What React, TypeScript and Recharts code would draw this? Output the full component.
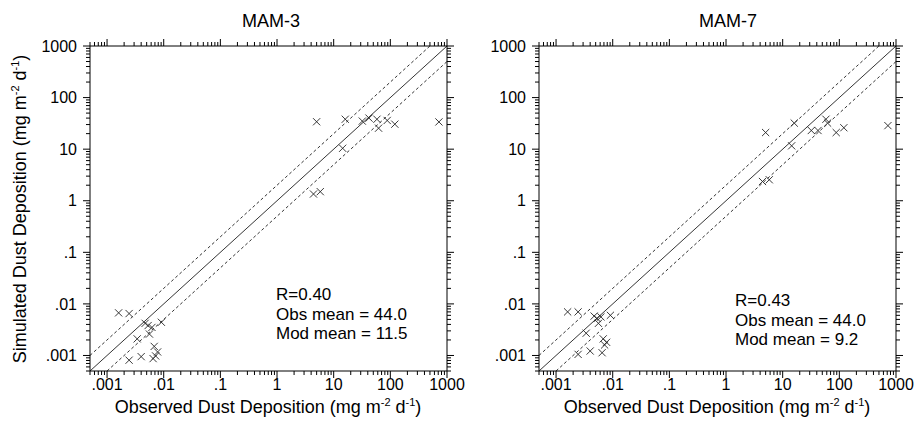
import React from "react";
import { ReferenceArea, ReferenceLine, Scatter, ScatterChart, XAxis, YAxis } from "recharts";

// axis range (same on both axes), log scale
const axisMin = 0.0005;
const axisMax = 1000;
const majorTicks = [0.001, 0.01, 0.1, 1, 10, 100, 1000];
const majorLabels = [".001", ".01", ".1", "1", "10", "100", "1000"];
const decadeStarts = [0.0001, 0.001, 0.01, 0.1, 1, 10, 100];
const minorSteps = [2, 3, 4, 5, 6, 7, 8, 9];

// observed deposition, shared by both panels
const obsValues = [
  5.0, 16, 14.4, 32, 42, 58, 62, 88, 120, 720, 4.4, 5.8,
  0.0016, 0.00245, 0.0047, 0.0053, 0.0062, 0.0091, 0.0056, 0.0034, 0.0068, 0.0078, 0.0072, 0.0065, 0.004, 0.00245,
];
// simulated deposition
const mam3Values = [
  34, 38, 10.4, 35, 40, 38, 25.5, 36, 30.5, 33.7, 1.35, 1.5,
  0.0067, 0.0065, 0.0042, 0.0038, 0.0035, 0.0044, 0.0026, 0.0021, 0.0015, 0.00117, 0.00098, 0.00087, 0.00095, 0.00081,
];
const mam7Values = [
  21, 32, 11.6, 23, 23, 38, 32, 21, 26, 28.6, 2.36, 2.55,
  0.007, 0.007, 0.0058, 0.0052, 0.0056, 0.006, 0.0042, 0.0027, 0.0021, 0.0018, 0.0016, 0.00113, 0.00122, 0.00105,
];
const mam3Stats = ["R=0.40", "Obs mean = 44.0", "Mod mean = 11.5"];
const mam7Stats = ["R=0.43", "Obs mean = 44.0", "Mod mean = 9.2"];
const factorBand = 2;

const FONT = "'Liberation Sans', Arial, Helvetica, sans-serif";
const CHART_W = 467;
const CHART_H = 423;
const MARGIN = { top: 46, right: 20, bottom: 22, left: 30 };
const X_AXIS_H = 30;
const Y_AXIS_W = 60;
const PLOT_W = CHART_W - MARGIN.left - MARGIN.right - Y_AXIS_W;
const PLOT_H = CHART_H - MARGIN.top - MARGIN.bottom - X_AXIS_H;

const allTicks = [
  ...decadeStarts.flatMap((d) => minorSteps.map((m) => Number((d * m).toPrecision(6)))),
  ...majorTicks,
]
  .filter((v) => v >= axisMin && v <= axisMax)
  .sort((a, b) => a - b);

function majorIndex(v: number) {
  return majorTicks.findIndex((t) => Math.abs(t - v) / t < 1e-6);
}

function XTick({ x, y, payload }: any) {
  const i = majorIndex(payload.value);
  const len = i >= 0 ? 7 : 4;
  return (
    <g>
      <line x1={x} y1={y} x2={x} y2={y + len} stroke="#000" strokeWidth={1} />
      <line x1={x} y1={y - PLOT_H} x2={x} y2={y - PLOT_H - len} stroke="#000" strokeWidth={1} />
      {i >= 0 && (
        <text x={x} y={y + 19} textAnchor="middle" fontSize={16} fontFamily={FONT} fill="#000">
          {majorLabels[i]}
        </text>
      )}
    </g>
  );
}

function YTick({ x, y, payload }: any) {
  const i = majorIndex(payload.value);
  const len = i >= 0 ? 7 : 4;
  return (
    <g>
      <line x1={x} y1={y} x2={x - len} y2={y} stroke="#000" strokeWidth={1} />
      <line x1={x + PLOT_W} y1={y} x2={x + PLOT_W + len} y2={y} stroke="#000" strokeWidth={1} />
      {i >= 0 && (
        <text x={x - 13} y={y} dy="0.36em" textAnchor="end" fontSize={16} fontFamily={FONT} fill="#000">
          {majorLabels[i]}
        </text>
      )}
    </g>
  );
}

function Cross({ cx, cy }: any) {
  const r = 3.6;
  return (
    <g stroke="#222" strokeWidth={0.9}>
      <line x1={cx - r} y1={cy - r} x2={cx + r} y2={cy + r} />
      <line x1={cx - r} y1={cy + r} x2={cx + r} y2={cy - r} />
    </g>
  );
}

function Panel({ mod, left }: { mod: number[]; left: number }) {
  const data = obsValues.map((x, i) => ({ x, y: mod[i] }));
  return (
    <div style={{ position: "absolute", left, top: 0 }}>
      <ScatterChart width={CHART_W} height={CHART_H} margin={MARGIN}>
        <XAxis
          type="number"
          dataKey="x"
          scale="log"
          domain={[axisMin, axisMax]}
          allowDataOverflow
          ticks={allTicks}
          interval={0}
          tickSize={0}
          tickMargin={0}
          tickLine={false}
          axisLine={false}
          height={X_AXIS_H}
          tick={<XTick />}
        />
        <YAxis
          type="number"
          dataKey="y"
          scale="log"
          domain={[axisMin, axisMax]}
          allowDataOverflow
          ticks={allTicks}
          interval={0}
          tickSize={0}
          tickMargin={0}
          tickLine={false}
          axisLine={false}
          width={Y_AXIS_W}
          tick={<YTick />}
        />
        <ReferenceArea x1={axisMin} x2={axisMax} y1={axisMin} y2={axisMax} fill="none" fillOpacity={0} stroke="#000" strokeWidth={1} />
        <ReferenceLine segment={[{ x: axisMin, y: axisMin }, { x: axisMax, y: axisMax }]} stroke="#000" strokeWidth={0.8} />
        <ReferenceLine
          segment={[{ x: axisMin, y: axisMin * factorBand }, { x: axisMax / factorBand, y: axisMax }]}
          stroke="#000"
          strokeWidth={0.8}
          strokeDasharray="3 2.5"
        />
        <ReferenceLine
          segment={[{ x: axisMin * factorBand, y: axisMin }, { x: axisMax, y: axisMax / factorBand }]}
          stroke="#000"
          strokeWidth={0.8}
          strokeDasharray="3 2.5"
        />
        <Scatter data={data} shape={<Cross />} isAnimationActive={false} />
      </ScatterChart>
    </div>
  );
}

function UnitLabel({ name }: { name: string }) {
  return (
    <>
      {name} (mg m<tspan fontSize={11} dy={-7}>-2</tspan>
      <tspan dy={7}> d</tspan>
      <tspan fontSize={11} dy={-7}>-1</tspan>
      <tspan dy={7}>)</tspan>
    </>
  );
}

function Stats({ lines, x, y }: { lines: string[]; x: number; y: number }) {
  return (
    <text x={x} y={y} fontSize={17} fontFamily={FONT} fill="#000">
      {lines.map((s, i) => (
        <tspan key={s} x={x} dy={i === 0 ? 0 : 19.7}>
          {s}
        </tspan>
      ))}
    </text>
  );
}

export default function App() {
  return (
    <div style={{ position: "absolute", left: 0, top: 0, width: 916, height: 423, background: "#fff" }}>
      <Panel mod={mam3Values} left={0} />
      <Panel mod={mam7Values} left={449} />
      <svg width={916} height={423} style={{ position: "absolute", left: 0, top: 0, pointerEvents: "none" }}>
        <g fontFamily={FONT} fill="#000">
          <text x={271} y={27} textAnchor="middle" fontSize={18}>MAM-3</text>
          <text x={728} y={27} textAnchor="middle" fontSize={18}>MAM-7</text>
          <text x={268} y={413} textAnchor="middle" fontSize={18}>
            <UnitLabel name="Observed Dust Deposition" />
          </text>
          <text x={717} y={413} textAnchor="middle" fontSize={18}>
            <UnitLabel name="Observed Dust Deposition" />
          </text>
          <text transform="translate(26,209) rotate(-90)" textAnchor="middle" fontSize={18}>
            <UnitLabel name="Simulated Dust Deposition" />
          </text>
        </g>
        <Stats lines={mam3Stats} x={276} y={300} />
        <Stats lines={mam7Stats} x={735} y={306} />
      </svg>
    </div>
  );
}
